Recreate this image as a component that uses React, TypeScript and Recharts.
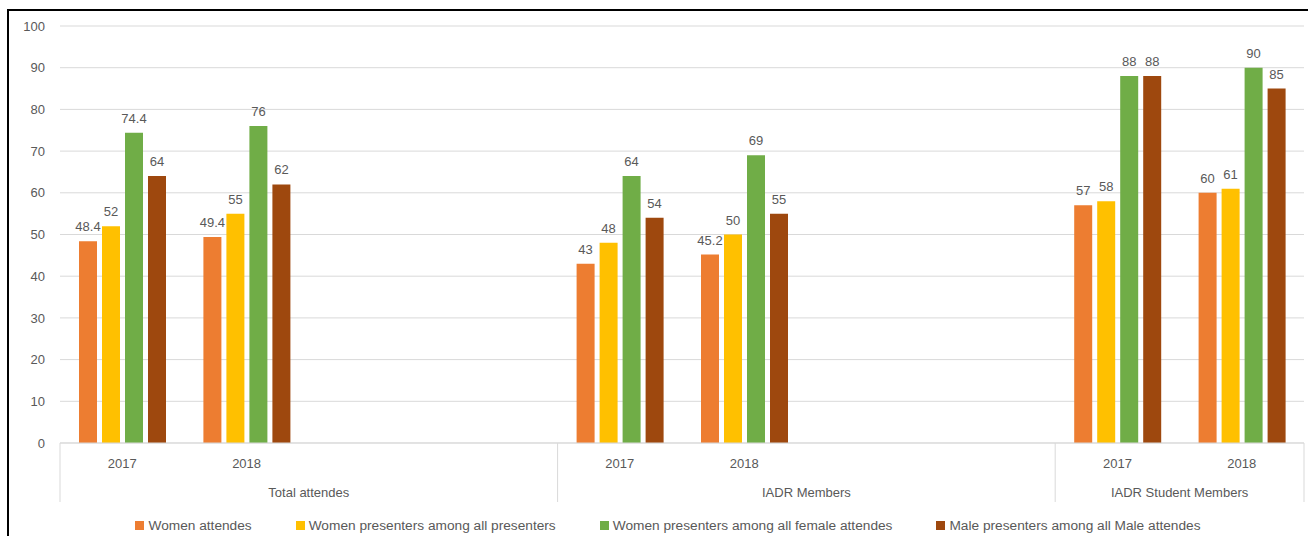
import { BarChart, Bar, XAxis, YAxis, CartesianGrid, Legend, LabelList } from 'recharts';

// one slot per category on the axis; blank slots keep the gaps seen in the original
const years = ['2017', '2018', '', '', '2017', '2018', '', '', '2017', '2018'];
const groups = ['Total attendes', 'IADR Members', 'IADR Student Members'];
const groupStarts = [0, 4, 8];
const groupSizes = [4, 4, 2];

const womenAttendes = [48.4, 49.4, null, null, 43, 45.2, null, null, 57, 60];
const womenPresenters = [52, 55, null, null, 48, 50, null, null, 58, 61];
const femaleAttendes = [74.4, 76, null, null, 64, 69, null, null, 88, 90];
const maleAttendes = [64, 62, null, null, 54, 55, null, null, 88, 85];

const yTicks = [0, 10, 20, 30, 40, 50, 60, 70, 80, 90, 100];

const SERIES = [
  { key: 'womenAttendes', name: 'Women attendes', color: '#ED7D31' },
  { key: 'womenPresenters', name: 'Women presenters among all presenters', color: '#FFC000' },
  { key: 'femaleAttendes', name: 'Women presenters among all female attendes', color: '#70AD47' },
  { key: 'maleAttendes', name: 'Male presenters among all Male attendes', color: '#9E480E' }
];

const data = years.map((year, i) => ({
  slot: i,
  year,
  womenAttendes: womenAttendes[i],
  womenPresenters: womenPresenters[i],
  femaleAttendes: femaleAttendes[i],
  maleAttendes: maleAttendes[i]
}));

const TEXT = '#595959';
const GRID = '#d9d9d9';

const CHART_W = 1299;
const CHART_H = 525;
const MARGIN = { top: 15, right: 4, bottom: 0, left: 11 };
const Y_WIDTH = 40;
const PLOT_W = CHART_W - MARGIN.left - MARGIN.right - Y_WIDTH;

const GroupedTick = ({ x, y, payload, index }: any) => {
  const band = payload?.offset ? payload.offset * 2 : PLOT_W / years.length;
  const g = groupStarts.indexOf(index);
  const last = index === years.length - 1;
  return (
    <g>
      <text x={x} y={y + 20} textAnchor="middle" dominantBaseline="central" fill={TEXT} fontSize={13}>
        {years[index]}
      </text>
      {g >= 0 && (
        <>
          <line x1={x - band / 2} x2={x - band / 2} y1={y} y2={y + 59} stroke={GRID} />
          <text
            x={x - band / 2 + (groupSizes[g] * band) / 2}
            y={y + 49}
            textAnchor="middle"
            dominantBaseline="central"
            fill={TEXT}
            fontSize={13}
          >
            {groups[g]}
          </text>
        </>
      )}
      {last && <line x1={x + band / 2} x2={x + band / 2} y1={y} y2={y + 59} stroke={GRID} />}
    </g>
  );
};

const LegendRow = () => (
  <div
    style={{
      height: 33,
      paddingTop: 12,
      boxSizing: 'border-box',
      display: 'flex',
      justifyContent: 'center',
      gap: 44,
      paddingLeft: 12,
      fontSize: 13.7,
      lineHeight: '16px',
      color: TEXT
    }}
  >
    {SERIES.map(s => (
      <div key={s.key} style={{ display: 'flex', alignItems: 'center', gap: 4 }}>
        <span style={{ width: 9, height: 9, background: s.color, display: 'inline-block' }} />
        <span>{s.name}</span>
      </div>
    ))}
  </div>
);

export default function App() {
  return (
    <div
      style={{
        position: 'fixed',
        left: 7,
        top: 9,
        width: 1301,
        height: 527,
        borderTop: '2px solid #000',
        borderLeft: '2px solid #000',
        boxSizing: 'border-box',
        background: '#fff',
        fontFamily: '"Liberation Sans", Arial, sans-serif'
      }}
    >
      <BarChart width={CHART_W} height={CHART_H} data={data} margin={MARGIN} barSize={18} barGap={5}>
        <CartesianGrid vertical={false} stroke={GRID} />
        <XAxis
          dataKey="slot"
          type="category"
          height={60}
          axisLine={{ stroke: GRID }}
          tickLine={false}
          tickSize={0}
          tickMargin={0}
          interval={0}
          tick={<GroupedTick />}
        />
        <YAxis
          width={Y_WIDTH}
          domain={[0, 100]}
          ticks={yTicks}
          axisLine={false}
          tickLine={false}
          tickSize={0}
          tickMargin={15}
          tick={{ fill: TEXT, fontSize: 13 }}
        />
        <Legend verticalAlign="bottom" height={33} content={<LegendRow />} />
        {SERIES.map(s => (
          <Bar key={s.key} dataKey={s.key} name={s.name} fill={s.color} isAnimationActive={false}>
            <LabelList dataKey={s.key} position="top" offset={10} fill={TEXT} fontSize={13} />
          </Bar>
        ))}
      </BarChart>
    </div>
  );
}
